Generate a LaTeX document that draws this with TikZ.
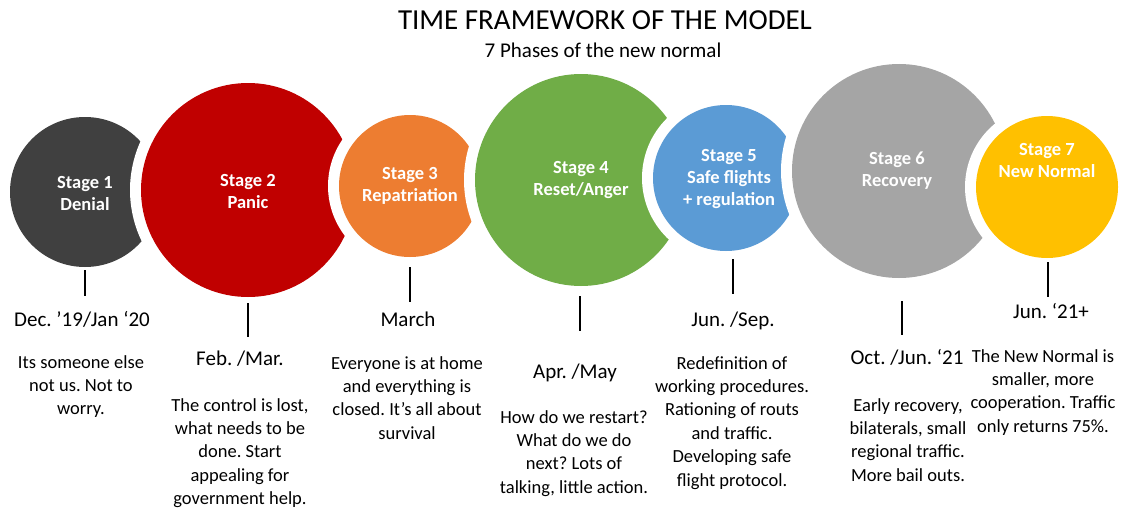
\documentclass[tikz,border=0pt]{standalone}
\usepackage{fontspec}
\setmainfont{Carlito}
\usetikzlibrary{positioning}
\definecolor{denial}{HTML}{404040}
\definecolor{panic}{HTML}{C00000}
\definecolor{repat}{HTML}{ED7D31}
\definecolor{reset}{HTML}{70AD47}
\definecolor{safe}{HTML}{5B9BD5}
\definecolor{recov}{HTML}{A5A5A5}
\definecolor{newnorm}{HTML}{FFC000}
\tikzset{
  ring/.style={circle, fill=white, inner sep=0pt, outer sep=0pt},
  stage/.style={circle, inner sep=0pt, outer sep=0pt},
  stagelbl/.style={text=white, font=\bfseries\fontsize{18.5}{22}\selectfont, align=center, inner sep=0pt},
  datelbl/.style={font=\fontsize{21}{25}\selectfont, anchor=base, inner sep=0pt},
  desc/.style={font=\fontsize{18.5}{23.4}\selectfont, align=center, anchor=north, inner sep=0pt},
  tick/.style={line width=2pt},
}
\frenchspacing

\begin{document}
\begin{tikzpicture}[x=1pt,y=-1pt]
    \useasboundingbox (0,0) rectangle (1132,511);
    % title
    \node[font=\fontsize{29}{35}\selectfont] (title) at (605,20) {TIME FRAMEWORK OF THE MODEL};
    \node[font=\fontsize{21}{25}\selectfont] (subtitle) at (603,50) {7 Phases of the new normal};
    % circles, each one cuts into the one before
    \foreach \n/\x/\y/\r/\c in {1/85/192/75/denial, 2/248/190/107/panic, 3/410/186/71/repat,
        4/581/180/106/reset, 5/726/178/73/safe, 6/899/171/107/recov, 7/1047/187/71/newnorm} {
        \node[ring, minimum size={(2*\r+22)*1pt}] at (\x,\y) {};
        \node[stage, fill=\c, minimum size={(2*\r)*1pt}] (s\n) at (\x,\y) {};
    }
    \node[stagelbl] (l1) at ([yshift=-2pt]s1.center) {Stage 1\\Denial};
    \node[stagelbl] (l2) at ([yshift=-1pt]s2.center) {Stage 2\\Panic};
    \node[stagelbl] (l3) at (s3.center) {Stage 3\\Repatriation};
    \node[stagelbl] (l4) at (s4.center) {Stage 4\\Reset/Anger};
    \node[stagelbl] (l5) at ([xshift=3pt,yshift=-1pt]s5.center) {Stage 5\\Safe flights\\+ regulation};
    \node[stagelbl] (l6) at ([xshift=-2pt]s6.center) {Stage 6\\Recovery};
    \node[stagelbl] (l7) at ([yshift=26pt]s7.center) {Stage 7\\New Normal};
    % ticks
    \foreach \n/\x/\a/\b in {1/85/270/296, 2/248/303/337, 3/410/267/302, 4/580/296/331,
        5/733/259/294, 6/902/301/335, 7/1048/262/297} {
        \coordinate (top\n) at (\x,\a);
        \coordinate (bot\n) at (\x,\b);
        \draw[tick] (top\n) -- (bot\n);
    }
    % dates
    \node[datelbl] (d1) at (82,326) {Dec. ’19/Jan ‘20};
    \node[datelbl] (d2) at (240,365) {Feb. /Mar.};
    \node[datelbl] (d3) at (408,326) {March};
    \node[datelbl] (d4) at (575,378) {Apr. /May};
    \node[datelbl] (d5) at (733,326) {Jun. /Sep.};
    \node[datelbl] (d6) at (907,364) {Oct. /Jun. ‘21};
    \node[datelbl] (d7) at (1051,318) {Jun. ‘21+};
    % descriptions
    \node[desc] (t1) at (81,355) {Its someone else\\not us. Not to\\worry.};
    \node[desc] (t2) at (240,398) {The control is lost,\\what needs to be\\done. Start\\appealing for\\government help.};
    \node[desc] (t3) at (407,356) {Everyone is at home\\and everything is\\closed. It’s all about\\survival};
    \node[desc] (t4) at (574,410) {How do we restart?\\What do we do\\next? Lots of\\talking, little action.};
    \node[desc] (t5) at (732,356) {Redefinition of\\working procedures.\\Rationing of routs\\and traffic.\\Developing safe\\flight protocol.};
    \node[desc] (t6) at (908,398) {Early recovery,\\bilaterals, small\\regional traffic.\\More bail outs.};
    \node[desc] (t7) at (1043,349) {The New Normal is\\smaller, more\\cooperation. Traffic\\only returns 75\%.};
\end{tikzpicture}
\end{document}
